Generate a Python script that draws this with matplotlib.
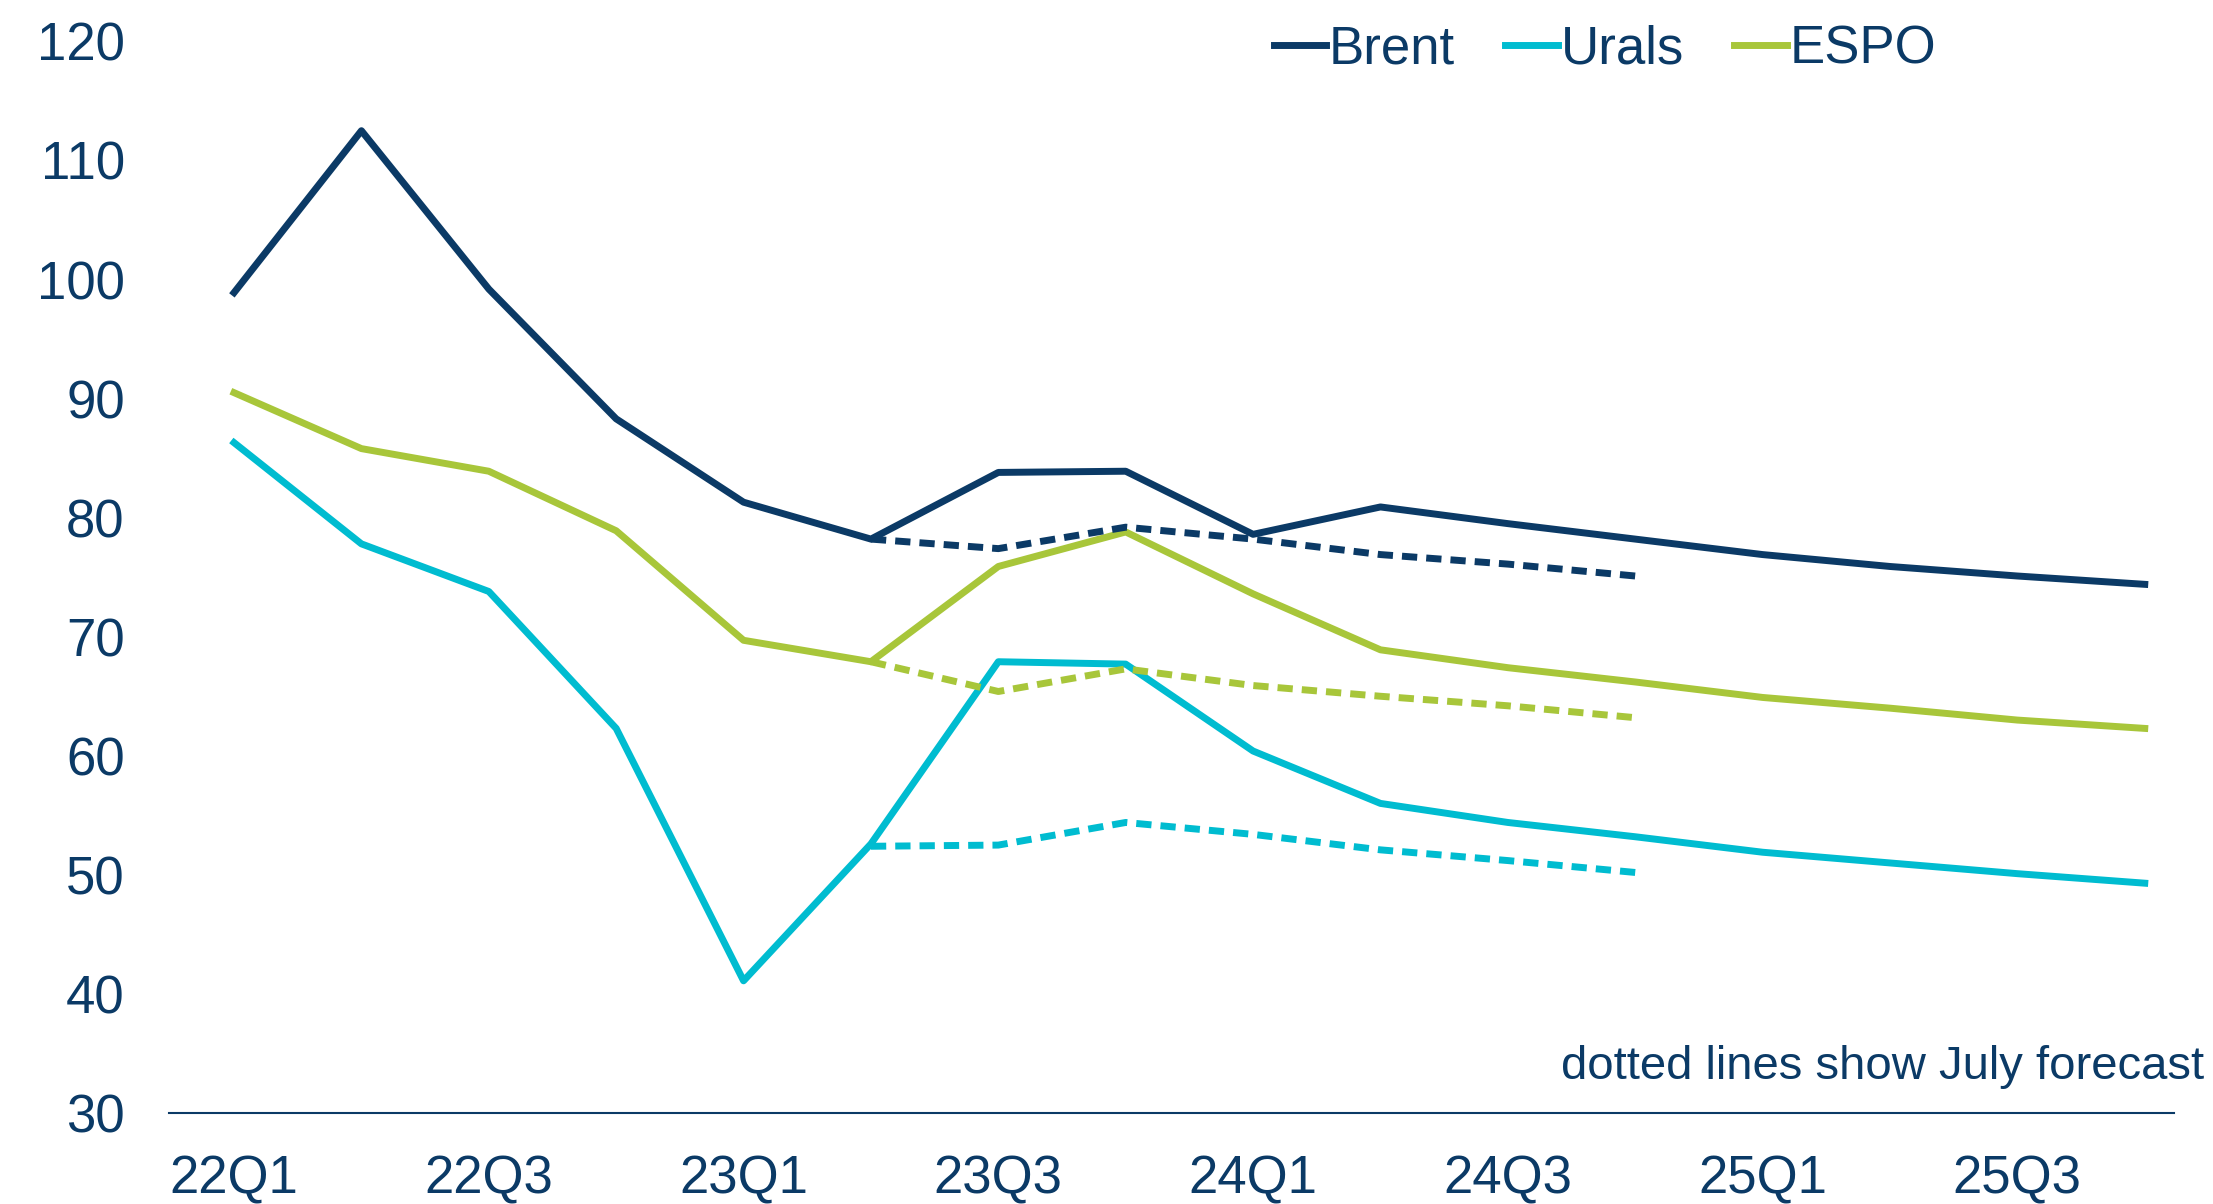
import numpy as np
import matplotlib
matplotlib.use('Agg')
import matplotlib.pyplot as plt

# quarters 22Q1 .. 25Q4
quarters = ['22Q1', '22Q2', '22Q3', '22Q4', '23Q1', '23Q2', '23Q3', '23Q4',
            '24Q1', '24Q2', '24Q3', '24Q4', '25Q1', '25Q2', '25Q3', '25Q4']

brent = [98.9, 112.5, 99.2, 88.3, 81.3, 78.2, 83.8, 83.9,
         78.6, 80.9, 79.5, 78.2, 76.9, 75.9, 75.1, 74.4]
urals = [86.3, 77.8, 73.8, 62.3, 41.1, 52.6, 67.9, 67.7,
         60.4, 56.0, 54.4, 53.2, 51.9, 51.0, 50.1, 49.3]
espo = [90.5, 85.8, 83.9, 78.9, 69.7, 67.9, 75.9, 78.8,
        73.6, 68.9, 67.4, 66.2, 64.9, 64.0, 63.0, 62.3]

# July forecast, 23Q2 .. 24Q4
july_quarters = quarters[5:12]
brent_july = [78.2, 77.4, 79.2, 78.2, 76.9, 76.1, 75.1]
urals_july = [52.4, 52.5, 54.4, 53.4, 52.1, 51.2, 50.2]
espo_july = [67.9, 65.4, 67.3, 65.9, 65.0, 64.2, 63.2]

navy = '#0b3a66'
cyan = '#00bcd0'
lime = '#a8c63a'

plt.rcParams['font.family'] = ['Liberation Sans', 'DejaVu Sans']

fig = plt.figure(figsize=(22.13, 12.04), dpi=100)
ax = fig.add_axes([0.0764, 0.0756, 0.906, 0.890])

x = np.arange(len(quarters))
xj = np.arange(5, 5 + len(july_quarters))
lw = 5.0
ax.plot(x, brent, color=navy, lw=lw, label='Brent')
ax.plot(x, urals, color=cyan, lw=lw, label='Urals')
ax.plot(x, espo, color=lime, lw=lw, label='ESPO')
for vals, c in [(brent_july, navy), (urals_july, cyan), (espo_july, lime)]:
    ax.plot(xj, vals, color=c, lw=lw, dashes=(2.2, 1.3))

ax.set_xlim(-0.51, 15.23)
ax.set_ylim(30, 120)
ax.set_yticks(range(30, 121, 10))
ax.set_xticks(x[::2])
ax.set_xticklabels(quarters[::2])
ax.tick_params(axis='both', length=0, labelsize=38, colors=navy)
ax.tick_params(axis='y', pad=32)
ax.tick_params(axis='x', pad=30)
for s in ['top', 'right', 'left']:
    ax.spines[s].set_visible(False)
ax.spines['bottom'].set_color(navy)
ax.spines['bottom'].set_linewidth(1.5)

leg = ax.legend(loc='upper right', bbox_to_anchor=(0.905, 1.06), ncol=3, frameon=False,
                fontsize=38, handlelength=1.0, handletextpad=0.05, columnspacing=0.95)
for t in leg.get_texts():
    t.set_color(navy)

ax.text(1.015, 0.022, 'dotted lines show July forecast', transform=ax.transAxes,
        ha='right', va='bottom', fontsize=34, color=navy)

fig.savefig('out.png', dpi=100)
